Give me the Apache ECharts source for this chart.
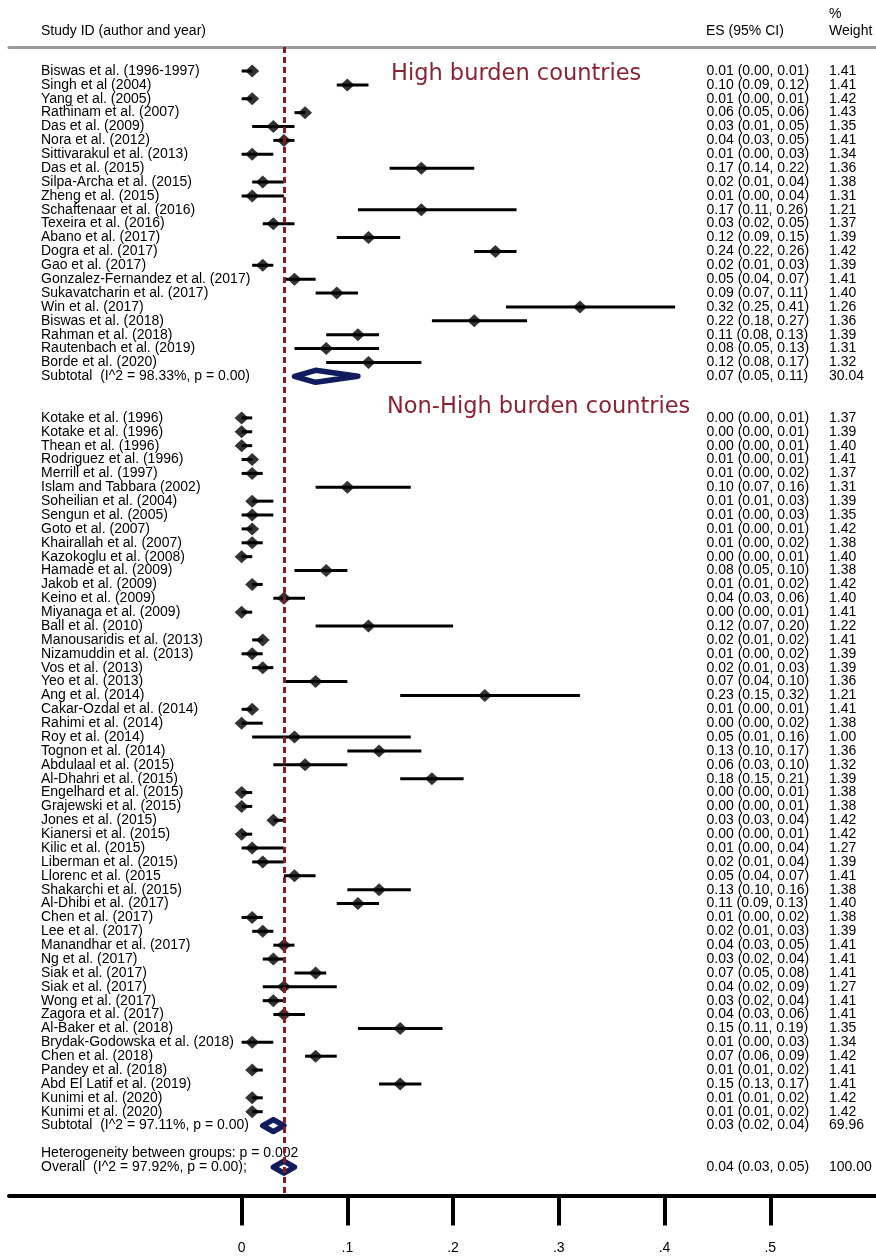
<!DOCTYPE html>
<html>
<head>
<meta charset="utf-8">
<script src="https://cdn.jsdelivr.net/npm/echarts@6/dist/echarts.min.js"></script>
<style>
  html, body { margin: 0; padding: 0; background: #fff; }
  #chart { width: 876px; height: 1257px; }
</style>
</head>
<body>
<div id="chart"></div>
<script>
// ---- High burden countries ----
const highStudies = [
  'Biswas et al. (1996-1997)', 'Singh et al (2004)', 'Yang et al. (2005)', 'Rathinam et al. (2007)',
  'Das et al. (2009)', 'Nora et al. (2012)', 'Sittivarakul et al. (2013)', 'Das et al. (2015)',
  'Silpa-Archa et al. (2015)', 'Zheng et al. (2015)', 'Schaftenaar et al. (2016)', 'Texeira et al. (2016)',
  'Abano et al. (2017)', 'Dogra et al. (2017)', 'Gao et al. (2017)', 'Gonzalez-Fernandez et al. (2017)',
  'Sukavatcharin et al. (2017)', 'Win et al. (2017)', 'Biswas et al. (2018)', 'Rahman et al. (2018)',
  'Rautenbach et al. (2019)', 'Borde et al. (2020)'
];
const highES = [0.01, 0.10, 0.01, 0.06, 0.03, 0.04, 0.01, 0.17, 0.02, 0.01, 0.17, 0.03, 0.12, 0.24, 0.02, 0.05, 0.09, 0.32, 0.22, 0.11, 0.08, 0.12];
const highLo = [0.00, 0.09, 0.00, 0.05, 0.01, 0.03, 0.00, 0.14, 0.01, 0.00, 0.11, 0.02, 0.09, 0.22, 0.01, 0.04, 0.07, 0.25, 0.18, 0.08, 0.05, 0.08];
const highHi = [0.01, 0.12, 0.01, 0.06, 0.05, 0.05, 0.03, 0.22, 0.04, 0.04, 0.26, 0.05, 0.15, 0.26, 0.03, 0.07, 0.11, 0.41, 0.27, 0.13, 0.13, 0.17];
const highWeight = [1.41, 1.41, 1.42, 1.43, 1.35, 1.41, 1.34, 1.36, 1.38, 1.31, 1.21, 1.37, 1.39, 1.42, 1.39, 1.41, 1.40, 1.26, 1.36, 1.39, 1.31, 1.32];

// ---- Non-High burden countries ----
const nonHighStudies = [
  'Kotake et al. (1996)', 'Kotake et al. (1996)', 'Thean et al. (1996)', 'Rodriguez et al. (1996)',
  'Merrill et al. (1997)', 'Islam and Tabbara (2002)', 'Soheilian et al. (2004)', 'Sengun et al. (2005)',
  'Goto et al. (2007)', 'Khairallah et al. (2007)', 'Kazokoglu et al. (2008)', 'Hamade et al. (2009)',
  'Jakob et al. (2009)', 'Keino et al. (2009)', 'Miyanaga et al. (2009)', 'Ball et al. (2010)',
  'Manousaridis et al. (2013)', 'Nizamuddin et al. (2013)', 'Vos et al. (2013)', 'Yeo et al. (2013)',
  'Ang et al. (2014)', 'Cakar-Ozdal et al. (2014)', 'Rahimi et al. (2014)', 'Roy et al. (2014)',
  'Tognon et al. (2014)', 'Abdulaal et al. (2015)', 'Al-Dhahri et al. (2015)', 'Engelhard et al. (2015)',
  'Grajewski et al. (2015)', 'Jones et al. (2015)', 'Kianersi et al. (2015)', 'Kilic et al. (2015)',
  'Liberman et al. (2015)', 'Llorenc et al. (2015', 'Shakarchi et al. (2015)', 'Al-Dhibi et al. (2017)',
  'Chen et al. (2017)', 'Lee et al. (2017)', 'Manandhar et al. (2017)', 'Ng et al. (2017)',
  'Siak et al. (2017)', 'Siak et al. (2017)', 'Wong et al. (2017)', 'Zagora et al. (2017)',
  'Al-Baker et al. (2018)', 'Brydak-Godowska et al. (2018)', 'Chen et al. (2018)', 'Pandey et al. (2018)',
  'Abd El Latif et al. (2019)', 'Kunimi et al. (2020)', 'Kunimi et al. (2020)'
];
const nonHighES = [0.00, 0.00, 0.00, 0.01, 0.01, 0.10, 0.01, 0.01, 0.01, 0.01, 0.00, 0.08, 0.01, 0.04, 0.00, 0.12,
  0.02, 0.01, 0.02, 0.07, 0.23, 0.01, 0.00, 0.05, 0.13, 0.06, 0.18, 0.00, 0.00, 0.03, 0.00, 0.01,
  0.02, 0.05, 0.13, 0.11, 0.01, 0.02, 0.04, 0.03, 0.07, 0.04, 0.03, 0.04, 0.15, 0.01, 0.07, 0.01,
  0.15, 0.01, 0.01];
const nonHighLo = [0.00, 0.00, 0.00, 0.00, 0.00, 0.07, 0.01, 0.00, 0.00, 0.00, 0.00, 0.05, 0.01, 0.03, 0.00, 0.07,
  0.01, 0.00, 0.01, 0.04, 0.15, 0.00, 0.00, 0.01, 0.10, 0.03, 0.15, 0.00, 0.00, 0.03, 0.00, 0.00,
  0.01, 0.04, 0.10, 0.09, 0.00, 0.01, 0.03, 0.02, 0.05, 0.02, 0.02, 0.03, 0.11, 0.00, 0.06, 0.01,
  0.13, 0.01, 0.01];
const nonHighHi = [0.01, 0.01, 0.01, 0.01, 0.02, 0.16, 0.03, 0.03, 0.01, 0.02, 0.01, 0.10, 0.02, 0.06, 0.01, 0.20,
  0.02, 0.02, 0.03, 0.10, 0.32, 0.01, 0.02, 0.16, 0.17, 0.10, 0.21, 0.01, 0.01, 0.04, 0.01, 0.04,
  0.04, 0.07, 0.16, 0.13, 0.02, 0.03, 0.05, 0.04, 0.08, 0.09, 0.04, 0.06, 0.19, 0.03, 0.09, 0.02,
  0.17, 0.02, 0.02];
const nonHighWeight = [1.37, 1.39, 1.40, 1.41, 1.37, 1.31, 1.39, 1.35, 1.42, 1.38, 1.40, 1.38, 1.42, 1.40, 1.41, 1.22,
  1.41, 1.39, 1.39, 1.36, 1.21, 1.41, 1.38, 1.00, 1.36, 1.32, 1.39, 1.38, 1.38, 1.42, 1.42, 1.27,
  1.39, 1.41, 1.38, 1.40, 1.38, 1.39, 1.41, 1.41, 1.41, 1.27, 1.41, 1.41, 1.35, 1.34, 1.42, 1.41,
  1.41, 1.42, 1.42];

// ---- Pooled estimates ----
const groupTitles = ['High burden countries', 'Non-High burden countries'];
const subtotalLabels = ['Subtotal  (I^2 = 98.33%, p = 0.00)', 'Subtotal  (I^2 = 97.11%, p = 0.00)'];
const subtotalES = [0.07, 0.03];
const subtotalLo = [0.05, 0.02];
const subtotalHi = [0.11, 0.04];
const subtotalWeight = [30.04, 69.96];
const heterogeneityText = 'Heterogeneity between groups: p = 0.002';
const overallLabel = 'Overall  (I^2 = 97.92%, p = 0.00);';
const overallES = 0.04, overallLo = 0.03, overallHi = 0.05, overallWeight = 100.00;

// ---- Axis ----
const xTicks = [0, 0.1, 0.2, 0.3, 0.4, 0.5];
const xTickLabels = ['0', '.1', '.2', '.3', '.4', '.5'];

// Build the row table: one row per line of the plot
const rows = [];
let r = 0;
function addGroup(names, es, lo, hi, w, g) {
  names.forEach((n, i) => rows.push({ row: r++, name: n, es: es[i], lo: lo[i], hi: hi[i], weight: w[i], kind: 'study' }));
  rows.push({ row: r++, name: subtotalLabels[g], es: subtotalES[g], lo: subtotalLo[g], hi: subtotalHi[g], weight: subtotalWeight[g], kind: 'pooled' });
}
addGroup(highStudies, highES, highLo, highHi, highWeight, 0);
r += 2;
addGroup(nonHighStudies, nonHighES, nonHighLo, nonHighHi, nonHighWeight, 1);
r += 1;
rows.push({ row: r++, name: heterogeneityText, kind: 'note' });
rows.push({ row: r++, name: overallLabel, es: overallES, lo: overallLo, hi: overallHi, weight: overallWeight, kind: 'pooled' });

const byRow = {};
rows.forEach(d => { byRow[d.row] = d; });
const studies = rows.filter(d => d.kind === 'study');
const pooled = rows.filter(d => d.kind === 'pooled');
const withES = rows.filter(d => d.es !== undefined);

const FONT = '"Liberation Sans", Arial, sans-serif';
const TEXT = '#000';
const GRID_LEFT = 9;

function rowAxis(values, fmt, textX) {
  return {
    type: 'value', inverse: true, min: -1.73, max: 81.04, position: 'left',
    axisLine: { show: false, onZero: false }, axisTick: { show: false }, splitLine: { show: false },
    axisLabel: {
      customValues: values, formatter: fmt, align: 'left', margin: GRID_LEFT - textX,
      fontFamily: FONT, fontSize: 14, color: TEXT
    }
  };
}

const headerStyle = { fontFamily: FONT, fontSize: 14, fontWeight: 'normal', color: TEXT, lineHeight: 16 };
const groupStyle = { fontFamily: '"DejaVu Sans", sans-serif', fontSize: 22.5, fontWeight: 'normal', color: '#8B2232', lineHeight: 24 };

const chart = echarts.init(document.getElementById('chart'), null, { renderer: 'canvas' });
chart.setOption({
  animation: false,
  backgroundColor: '#fff',
  title: [
    { text: 'Study ID (author and year)', left: 41, top: 23, padding: 0, textStyle: headerStyle },
    { text: 'ES (95% CI)', left: 706, top: 23, padding: 0, textStyle: headerStyle },
    { text: '%', left: 829, top: 6, padding: 0, textStyle: headerStyle },
    { text: 'Weight', left: 829, top: 23, padding: 0, textStyle: headerStyle },
    { text: groupTitles[0], left: 391, top: 62, padding: 0, textStyle: groupStyle },
    { text: groupTitles[1], left: 387, top: 395, padding: 0, textStyle: groupStyle }
  ],
  grid: { left: GRID_LEFT, right: -2, top: 47, bottom: 61.5, containLabel: false },
  xAxis: [
    {
      type: 'value', min: -0.22, max: 0.6, position: 'bottom',
      axisLine: { show: true, onZero: false, lineStyle: { color: '#000', width: 4 } },
      axisTick: { show: true, customValues: xTicks, length: 30, lineStyle: { color: '#000', width: 4 } },
      axisLabel: {
        customValues: xTicks, margin: 46, fontFamily: FONT, fontSize: 14, color: TEXT,
        formatter: v => xTickLabels[xTicks.findIndex(t => Math.abs(t - v) < 1e-9)]
      },
      splitLine: { show: false }
    },
    {
      type: 'value', min: -0.22, max: 0.6, position: 'top',
      axisLine: { show: true, onZero: false, lineStyle: { color: '#9a9a9a', width: 3 } },
      axisTick: { show: false }, axisLabel: { show: false }, splitLine: { show: false }
    }
  ],
  yAxis: [
    rowAxis(rows.map(d => d.row), v => byRow[v] ? byRow[v].name : '', 41),
    rowAxis(withES.map(d => d.row), v => {
      const d = byRow[v];
      return d.es.toFixed(2) + ' (' + d.lo.toFixed(2) + ', ' + d.hi.toFixed(2) + ')';
    }, 706.5),
    rowAxis(withES.map(d => d.row), v => byRow[v].weight.toFixed(2), 829)
  ],
  series: [
    {
      // dashed reference line at the overall estimate
      type: 'line', data: [], z: 1, xAxisIndex: 0, yAxisIndex: 0,
      markLine: {
        silent: true, symbol: ['none', 'none'], label: { show: false },
        lineStyle: { color: '#8B1A1A', width: 3, type: [6, 4] },
        data: [{ xAxis: overallES }]
      }
    },
    {
      // confidence intervals
      type: 'custom', z: 3, xAxisIndex: 0, yAxisIndex: 0,
      encode: { x: [0, 1], y: 2 },
      data: studies.map(d => [d.lo, d.hi, d.row]),
      renderItem: (params, api) => {
        const a = api.coord([api.value(0), api.value(2)]);
        const b = api.coord([api.value(1), api.value(2)]);
        return { type: 'line', shape: { x1: a[0], y1: a[1], x2: b[0], y2: b[1] }, style: { stroke: '#000', lineWidth: 3 } };
      }
    },
    {
      // study estimates
      type: 'scatter', z: 4, xAxisIndex: 0, yAxisIndex: 0,
      symbol: 'diamond', symbolSize: [14, 13],
      itemStyle: { color: '#000' },
      data: studies.map(d => [d.es, d.row])
    },
    {
      // pooled estimates
      type: 'custom', z: 4, xAxisIndex: 0, yAxisIndex: 0,
      encode: { x: [0, 1, 2], y: 3 },
      data: pooled.map(d => [d.lo, d.es, d.hi, d.row]),
      renderItem: (params, api) => {
        const l = api.coord([api.value(0), api.value(3)]);
        const c = api.coord([api.value(1), api.value(3)]);
        const h = api.coord([api.value(2), api.value(3)]);
        const hh = 6;
        return {
          type: 'polygon',
          shape: { points: [[l[0], l[1]], [c[0], c[1] - hh], [h[0], h[1]], [c[0], c[1] + hh]] },
          style: { fill: '#fff', stroke: '#101C5E', lineWidth: 5.5, lineJoin: 'round' }
        };
      }
    }
  ]
});
</script>
</body>
</html>
